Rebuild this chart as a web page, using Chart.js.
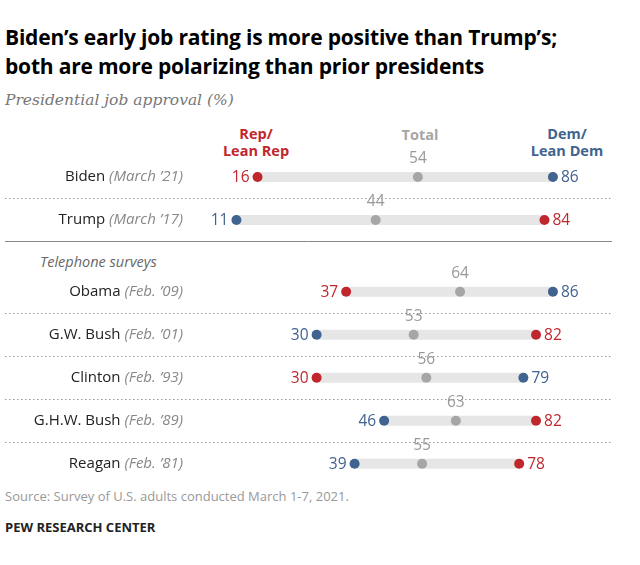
<!DOCTYPE html>
<html><head><meta charset="utf-8">
<script src="https://cdn.jsdelivr.net/npm/chart.js@4"></script>
<style>
body{margin:0;width:640px;height:565px;position:relative;font-family:"Open Sans",sans-serif;background:#fff;overflow:hidden}
.t{position:absolute;white-space:nowrap}
#c{position:absolute;left:0;top:0}
</style></head><body>
<div class="t" style="left:5px;top:23px;font-size:21px;font-weight:bold;line-height:29px;color:#000;letter-spacing:-0.2px">Biden’s early job rating is more positive than Trump’s;<br>both are more polarizing than prior presidents</div>
<div class="t" style="left:5px;top:91px;font-size:15.5px;font-style:italic;color:#777;font-family:'DejaVu Serif',serif">Presidential job approval (%)</div>
<div class="t" style="left:256px;top:125px;transform:translateX(-50%);text-align:center;font-size:14.5px;font-weight:bold;color:#c0272d;line-height:17px">Rep/<br>Lean Rep</div>
<div class="t" style="left:420px;top:125px;transform:translateX(-50%);font-size:14.5px;font-weight:bold;color:#a6a6a6">Total</div>
<div class="t" style="left:567px;top:125px;transform:translateX(-50%);text-align:center;font-size:14.5px;font-weight:bold;color:#40638f;line-height:17px">Dem/<br>Lean Dem</div>
<div class="t" style="left:40px;top:252px;font-size:14.5px;font-style:italic;color:#666">Telephone surveys</div>
<div class="t" style="left:5px;top:487px;font-size:13px;color:#999">Source: Survey of U.S. adults conducted March 1-7, 2021.</div>
<div class="t" style="left:5px;top:518px;font-size:13px;font-weight:bold;color:#222">PEW RESEARCH CENTER</div>
<canvas id="c" width="640" height="565"></canvas>
<script>
const names=["Biden","Trump","Obama","G.W. Bush","Clinton","G.H.W. Bush","Reagan"];
const dates=["(March ’21)","(March ’17)","(Feb. ’09)","(Feb. ’01)","(Feb. ’93)","(Feb. ’89)","(Feb. ’81)"];
const rowPos=[0,1,2.67,3.67,4.67,5.67,6.67];
const rep=[16,84,37,82,30,82,78];
const total=[54,44,64,53,56,63,55];
const dem=[86,11,86,30,79,46,39];
const RED="#c0272d",BLUE="#40638f",GRAY="#a6a6a6";
const pts=a=>a.map((v,i)=>({x:v,y:rowPos[i]}));
const F="'Open Sans', sans-serif";
const deco={id:'deco',beforeDatasetsDraw(ch){
 const {ctx,scales:{x,y}}=ch;ctx.save();
 ctx.lineWidth=1;
 const seps=[0.5,1.5,3.17,4.17,5.17,6.17];
 seps.forEach((s,k)=>{const py=Math.round(y.getPixelForValue(s))+0.5;
  if(k===1){ctx.setLineDash([]);ctx.strokeStyle="#888";}else{ctx.setLineDash([1.5,2.5]);ctx.strokeStyle="#999";}
  ctx.beginPath();ctx.moveTo(5,py);ctx.lineTo(612,py);ctx.stroke();});
 ctx.setLineDash([]);
 rowPos.forEach((r,i)=>{
  const py=y.getPixelForValue(r);
  const lo=Math.min(rep[i],dem[i]),hi=Math.max(rep[i],dem[i]);
  ctx.fillStyle="#e6e6e6";ctx.fillRect(x.getPixelForValue(lo),py-5,x.getPixelForValue(hi)-x.getPixelForValue(lo),10);
  ctx.textBaseline="middle";ctx.textAlign="right";
  ctx.font="italic 15px "+F;ctx.fillStyle="#888";ctx.fillText(dates[i],183,py);
  const dw=ctx.measureText(dates[i]).width;
  ctx.font="15px "+F;ctx.fillStyle="#222";ctx.fillText(names[i]+" ",183-dw,py);
 });
 ctx.restore();
},afterDatasetsDraw(ch){
 const {ctx,scales:{x,y}}=ch;ctx.save();ctx.font="15.5px "+F;ctx.textBaseline="middle";
 rowPos.forEach((r,i)=>{
  const py=y.getPixelForValue(r);
  [[rep[i],RED,rep[i]<dem[i]],[dem[i],BLUE,dem[i]<rep[i]]].forEach(([v,c,left])=>{
   ctx.fillStyle=c;ctx.textAlign=left?"right":"left";
   ctx.fillText(v,x.getPixelForValue(v)+(left?-8:8),py+1);
  });
  ctx.fillStyle="#999";ctx.textAlign="center";ctx.fillText(total[i],x.getPixelForValue(total[i]),py-18);
 });
 ctx.restore();
}};
new Chart(document.getElementById('c'),{type:'scatter',
 data:{datasets:[
  {data:pts(total),backgroundColor:GRAY,pointRadius:5,borderWidth:0},
  {data:pts(rep),backgroundColor:RED,pointRadius:5,borderWidth:0},
  {data:pts(dem),backgroundColor:BLUE,pointRadius:5,borderWidth:0}]},
 options:{responsive:false,animation:false,events:[],
  layout:{padding:{left:190,right:28,top:134,bottom:57}},
  plugins:{legend:{display:false},tooltip:{enabled:false}},
  scales:{x:{type:'linear',min:0,max:100,display:false},
          y:{type:'linear',min:-1,max:7.7,reverse:true,display:false}}},
 plugins:[deco]});
</script></body></html>
